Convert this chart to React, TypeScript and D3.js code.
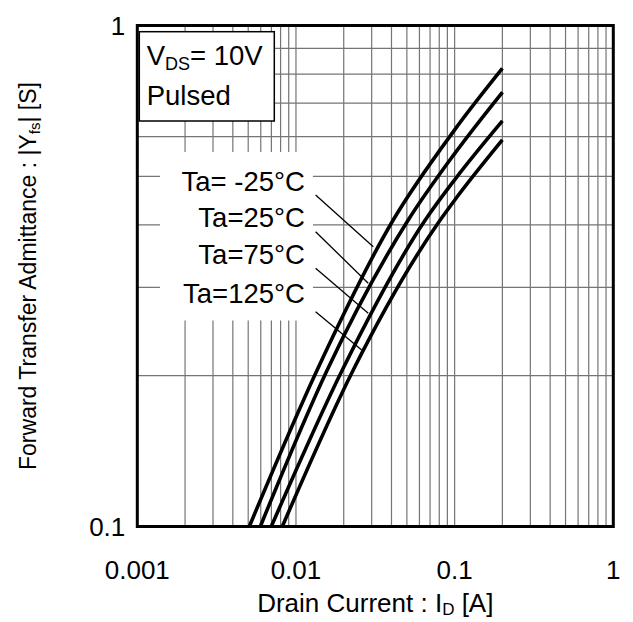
import React from "react";
import * as d3 from "d3";

// ---- data ----
const seriesNames = ["Ta= -25°C", "Ta=25°C", "Ta=75°C", "Ta=125°C"];
const curveX = [
  [0.00508, 0.0136, 0.041, 0.1, 0.2],
  [0.00596, 0.01574, 0.051, 0.1, 0.2],
  [0.00699, 0.01959, 0.0653, 0.1, 0.2],
  [0.0082, 0.02296, 0.0811, 0.1, 0.2],
];
const curveY = [
  [0.1, 0.2053, 0.409, 0.619, 0.821],
  [0.1, 0.2053, 0.409, 0.555, 0.736],
  [0.1, 0.2053, 0.409, 0.492, 0.645],
  [0.1, 0.2053, 0.409, 0.448, 0.591],
];
// label anchors & leader lines (data units)
const labelX = 0.01139;
const labelY = [0.4675, 0.397, 0.3334, 0.2787];
const leaderFromX = 0.0133;
const leaderFromY = [0.4588, 0.3877, 0.3277, 0.2684];
const leaderToX = [0.0307, 0.02855, 0.02855, 0.02594];
const leaderToY = [0.3619, 0.3058, 0.2664, 0.2251];

const xTicks = [0.001, 0.01, 0.1, 1];
const xTickLabels = ["0.001", "0.01", "0.1", "1"];
const yTicks = [0.1, 1];
const yTickLabels = ["0.1", "1"];

const W = 633;
const H = 622;
const FONT = "'Liberation Sans', Arial, Helvetica, sans-serif";

export default function App() {
  const left = 137.3;
  const right = 613.3;
  const top = 25.5;
  const bottom = 526.5;

  const x = d3.scaleLog().domain([0.001, 1]).range([left, right]);
  const y = d3.scaleLog().domain([0.1, 1]).range([bottom, top]);

  // minor grid values
  const xGrid: number[] = [];
  [0.001, 0.01, 0.1].forEach((d) => {
    for (let k = 1; k <= 9; k++) {
      const v = d * k;
      if (v > 0.001 * 1.0001) xGrid.push(v);
    }
  });
  const yGrid: number[] = [];
  for (let k = 2; k <= 9; k++) yGrid.push(0.1 * k);

  const line = d3
    .line<[number, number]>()
    .x((d) => x(d[0]))
    .y((d) => y(d[1]))
    .curve(d3.curveMonotoneX);

  const lx = x(labelX);
  const maskLeft = lx - 145;
  const maskRight = lx + 8;
  const maskTop = y(labelY[0]) - 39;
  const maskBottom = y(labelY[3]) + 17;

  const gridColor = "#757575";
  const fs = 27.5;

  return (
    <svg
      width={W}
      height={H}
      style={{ position: "absolute", left: 0, top: 0, background: "#fff" }}
      fontFamily={FONT}
    >
      <rect x={0} y={0} width={W} height={H} fill="#fff" />
      {/* grid */}
      <g stroke={gridColor} strokeWidth={1.2}>
        {xGrid.map((v, i) => (
          <line key={"xg" + i} x1={x(v)} x2={x(v)} y1={top} y2={bottom} />
        ))}
        {yGrid.map((v, i) => (
          <line key={"yg" + i} x1={left} x2={right} y1={y(v)} y2={y(v)} />
        ))}
      </g>
      {/* white mask behind labels */}
      <rect
        x={maskLeft}
        y={maskTop}
        width={maskRight - maskLeft}
        height={maskBottom - maskTop}
        fill="#fff"
      />
      {/* curves */}
      <g fill="none" stroke="#000" strokeWidth={3.6} strokeLinejoin="round">
        {curveX.map((xs, i) => (
          <path
            key={"c" + i}
            d={line(xs.map((v, j) => [v, curveY[i][j]] as [number, number])) || ""}
          />
        ))}
      </g>
      {/* leaders */}
      <g stroke="#000" strokeWidth={1.3}>
        {leaderFromY.map((v, i) => (
          <line
            key={"l" + i}
            x1={x(leaderFromX)}
            y1={y(v)}
            x2={x(leaderToX[i])}
            y2={y(leaderToY[i])}
          />
        ))}
      </g>
      {/* labels */}
      {seriesNames.map((s, i) => (
        <text key={"t" + i} x={lx} y={y(labelY[i])} fontSize={fs} textAnchor="end" fill="#000">
          {s}
        </text>
      ))}
      {/* VDS box */}
      <rect
        x={left + 2}
        y={top + 6.2}
        width={135}
        height={89.3}
        fill="#fff"
        stroke="#000"
        strokeWidth={1.5}
      />
      <text x={left + 9.4} y={65} fontSize={fs} fill="#000">
        V
        <tspan fontSize={18} dy={5}>DS</tspan>
        <tspan dy={-5}>= 10V</tspan>
      </text>
      <text x={left + 9.4} y={105} fontSize={fs} fill="#000">
        Pulsed
      </text>
      {/* frame */}
      <rect
        x={left}
        y={top}
        width={right - left}
        height={bottom - top}
        fill="none"
        stroke="#000"
        strokeWidth={3}
      />
      {/* x tick labels */}
      {xTicks.map((v, i) => (
        <text key={"xt" + i} x={x(v)} y={579} fontSize={26} textAnchor="middle" fill="#000">
          {xTickLabels[i]}
        </text>
      ))}
      {/* y tick labels */}
      {yTicks.map((v, i) => (
        <text
          key={"yt" + i}
          x={left - 12}
          y={y(v) + 9}
          fontSize={26}
          textAnchor="end"
          fill="#000"
        >
          {yTickLabels[i]}
        </text>
      ))}
      {/* x axis title */}
      <text x={(left + right) / 2} y={612} fontSize={26} textAnchor="middle" fill="#000">
        Drain Current : I<tspan fontSize={17} dy={3}>D</tspan>
        <tspan dy={-3}> [A]</tspan>
      </text>
      {/* y axis title */}
      <text
        transform={`translate(36, ${(top + bottom) / 2}) rotate(-90)`}
        fontSize={23}
        textAnchor="middle"
        fill="#000"
      >
        Forward Transfer Admittance : |Y<tspan fontSize={15} dy={4}>fs</tspan>
        <tspan dy={-4}>| [S]</tspan>
      </text>
    </svg>
  );
}
